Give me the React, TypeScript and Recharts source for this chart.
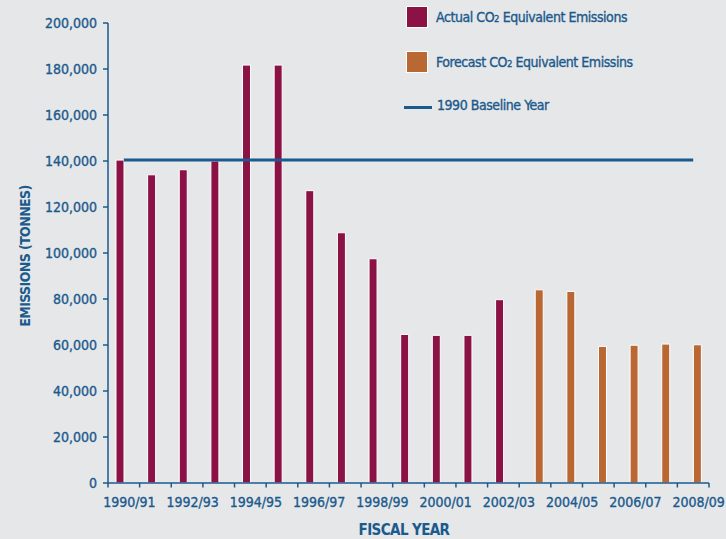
import React from "react";
import { ComposedChart, Bar, Line, XAxis, YAxis } from "recharts";

const years = [
  "1990/91", "1991/92", "1992/93", "1993/94", "1994/95", "1995/96", "1996/97",
  "1997/98", "1998/99", "1999/00", "2000/01", "2001/02", "2002/03", "2003/04",
  "2004/05", "2005/06", "2006/07", "2007/08", "2008/09",
];
const actual = [
  140400, 134000, 136200, 140000, 181700, 181700, 127100, 108800, 97500,
  64600, 64200, 64200, 79700, null, null, null, null, null, null,
];
const forecast = [
  null, null, null, null, null, null, null, null, null, null, null, null, null,
  84000, 83300, 59400, 59900, 60400, 60100,
];
const BASELINE_1990 = 140400;
const yTicks = [0, 20000, 40000, 60000, 80000, 100000, 120000, 140000, 160000, 180000, 200000];

const data = years.map((year, i) => ({
  year,
  actual: actual[i],
  forecast: forecast[i],
  baseline: BASELINE_1990,
}));

const W = 726;
const H = 539;
const BLUE = "#1b5a8c";
const PURPLE = "#8a1245";
const ORANGE = "#b96834";
const BG = "#e6e7e9";
const FONT = "'DejaVu Sans Condensed', 'DejaVu Sans', sans-serif";
const PLOT_LEFT = 108;
const PLOT_RIGHT = 709;
const BAND = (PLOT_RIGHT - PLOT_LEFT) / years.length;

const XTick = (props: any) => {
  const { x, y, payload, index } = props;
  const half = BAND / 2;
  return (
    <g>
      <line x1={x - half} x2={x - half} y1={y} y2={y + 4.5} stroke={BLUE} strokeWidth={1.5} />
      {index === years.length - 1 && (
        <line x1={x + half} x2={x + half} y1={y} y2={y + 4.5} stroke={BLUE} strokeWidth={1.5} />
      )}
      {index % 2 === 0 && (
        <text x={x + 5.5} y={y + 19.5} dy="0.355em" textAnchor="middle" fill={BLUE} stroke={BLUE} strokeWidth={0.35} fontSize={14} fontFamily={FONT}>
          {payload.value}
        </text>
      )}
    </g>
  );
};

const Sub2 = () => <span style={{ fontSize: "0.68em" }}>2</span>;

const legendText: React.CSSProperties = { letterSpacing: -0.45, WebkitTextStroke: "0.35px " + BLUE };

export default function App() {
  return (
    <div style={{ position: "absolute", left: 0, top: 0, width: W, height: H, background: BG, overflow: "hidden" }}>
      <ComposedChart width={W} height={H} data={data} margin={{ top: 23, right: 17, bottom: 0, left: 0 }} barGap={0}>
        <XAxis
          dataKey="year"
          height={56}
          interval={0}
          tickLine={false}
          tickSize={0}
          tickMargin={0}
          axisLine={{ stroke: BLUE, strokeWidth: 1.5 }}
          tick={<XTick />}
          label={{
            content: () => (
              <text x={404} y={530} dy="0.355em" textAnchor="middle" fill={BLUE} fontSize={15} fontWeight="bold" fontFamily={FONT} letterSpacing={-0.6}>
                FISCAL YEAR
              </text>
            ),
          }}
        />
        <YAxis
          width={108}
          domain={[0, 200000]}
          ticks={yTicks}
          interval={0}
          tickSize={5}
          tickMargin={6}
          tickFormatter={(v: number) => v.toLocaleString("en-US")}
          axisLine={{ stroke: BLUE, strokeWidth: 1.5 }}
          tickLine={{ stroke: BLUE, strokeWidth: 1.5 }}
          tick={{ fill: BLUE, stroke: BLUE, strokeWidth: 0.35, fontSize: 14, fontFamily: FONT }}
          label={{
            content: () => (
              <text x={25} y={256} dy="0.355em" textAnchor="middle" transform="rotate(-90, 25, 256)" fill={BLUE} fontSize={14} fontWeight="bold" fontFamily={FONT} letterSpacing={-0.6}>
                EMISSIONS (TONNES)
              </text>
            ),
          }}
        />
        <Bar dataKey="actual" barSize={8} fill={PURPLE} stroke="#ffffff" strokeWidth={1} isAnimationActive={false} />
        <Bar dataKey="forecast" barSize={8} fill={ORANGE} stroke="#ffffff" strokeWidth={1} isAnimationActive={false} />
        <Line dataKey="baseline" type="linear" stroke={BLUE} strokeWidth={3} dot={false} activeDot={false} isAnimationActive={false} />
      </ComposedChart>

      <div style={{ position: "absolute", left: 0, top: 0, fontFamily: FONT, fontSize: 14, color: BLUE }}>
        <div style={{ position: "absolute", left: 406, top: 6, height: 22, display: "flex", alignItems: "center", whiteSpace: "nowrap" }}>
          <div style={{ width: 22, height: 22, boxSizing: "border-box", border: "1px solid #fff", background: PURPLE, marginRight: 8 }} />
          <span style={legendText}>Actual CO<Sub2 /> Equivalent Emissions</span>
        </div>
        <div style={{ position: "absolute", left: 406, top: 51, height: 22, display: "flex", alignItems: "center", whiteSpace: "nowrap" }}>
          <div style={{ width: 22, height: 22, boxSizing: "border-box", border: "1px solid #fff", background: ORANGE, marginRight: 8 }} />
          <span style={legendText}>Forecast CO<Sub2 /> Equivalent Emissins</span>
        </div>
        <div style={{ position: "absolute", left: 404, top: 94, height: 22, display: "flex", alignItems: "center", whiteSpace: "nowrap" }}>
          <div style={{ width: 28, height: 3, background: BLUE, marginRight: 5, marginTop: 5 }} />
          <span style={legendText}>1990 Baseline Year</span>
        </div>
      </div>
    </div>
  );
}
